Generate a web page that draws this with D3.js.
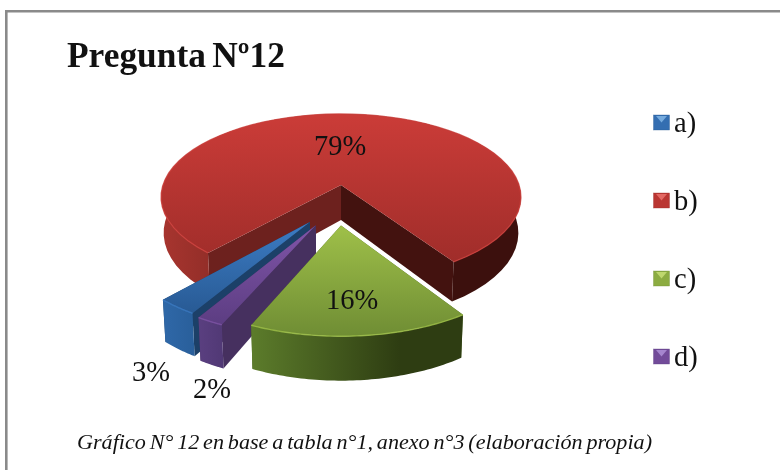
<!DOCTYPE html>
<html>
    <head>
        <meta charset="utf-8">
        <script src="https://d3js.org/d3.v7.min.js"></script>
        <style>
            html, body { margin: 0; padding: 0; background: #fff; }
            svg { display: block; filter: blur(0.45px); }
            text { font-family: "Liberation Serif", serif; fill: #111; }
        </style>
    </head>
    <body>
    <script>
        // data
        var categories= ['a)', 'b)', 'c)', 'd)']
        var percents= [3, 79, 16, 2]

        // colours per slice: top start/end, wall start/end, inner wall, legend light
        var topLight= ['#3c7cc4', '#cb3c38', '#9fc049', '#8055a8']
        var topDark= ['#285a94', '#a02d2a', '#6f8d34', '#5c3d82']
        var wallLight= ['#2f68a8', '#a8352f', '#5c7c2b', '#5a3f80']
        var wallDark= ['#1c4a7c', '#3c100d', '#2e3d12', '#3c2a5c']
        var innerWall= ['#1c4068', '#6d211e', '#4c6624', '#46305f']
        var legendLight= ['#8cc0ee', '#f07a74', '#cfe67c', '#b79ae0']

        // how far each slice is pulled out, and towards which angle (degrees)
        var pullDist= [0.457, 0, 0.465, 0.48]
        var pullDir= [201, 0, 180, 196]

        var w= 780
        var h= 470
        var cx= 341, cy= 185      // projected pie centre
        var R= 178, S= 81.3       // disc radii on screen
        var persp= 0.145          // perspective of the tilted disc
        var depth= 35             // height of the pie
        var firstAngle= 211       // where slice a) starts

        var svg= d3.select('body').append('svg')
            .attr('width', w)
            .attr('height', h)
            .attr('viewBox', [0, 0, w, h])
        var defs= svg.append('defs')

        // frame, only top and left are inside the picture
        svg.append('path')
            .attr('d', d3.line()([[6.3, h], [6.3, 11.3], [w, 11.3]]))
            .attr('fill', 'none')
            .attr('stroke', '#8a8a8a')
            .attr('stroke-width', 2.6)

        svg.append('text')
            .attr('x', 67).attr('y', 66.5)
            .attr('font-size', 35.4)
            .attr('font-weight', 'bold')
            .attr('word-spacing', -2.5)
            .text('Pregunta Nº12')

        svg.append('text')
            .attr('x', 77).attr('y', 449)
            .attr('font-size', 20)
            .attr('font-style', 'italic')
            .attr('fill', '#222')
            .attr('word-spacing', -1.5)
            .attr('textLength', 575)
            .attr('lengthAdjust', 'spacingAndGlyphs')
            .text('Gráfico N° 12 en base a tabla n°1, anexo n°3 (elaboración propia)')

        var pie= d3.pie().sort(null)
            .startAngle(firstAngle*Math.PI/180)
            .endAngle((firstAngle+360)*Math.PI/180)
        var arcs= pie(percents)

        // disc coordinates to screen, z goes down the side of the pie
        function project(u, v, z){
            var s= 1+persp*v
            var k= 1-0.014*z/depth
            return [cx+R*u/s*k, cy-S*v/s+z/s]
        }

        function slicePoints(d, i){
            var dir= pullDir[i]*Math.PI/180
            var ou= pullDist[i]*Math.sin(dir)
            var ov= pullDist[i]*Math.cos(dir)
            var rim= d3.range(0, 61).map(function(k){
                var a= d.startAngle+(d.endAngle-d.startAngle)*k/60
                return [ou+Math.sin(a), ov+Math.cos(a)]
            })
            return {apex: [ou, ov], rim: rim}
        }

        var line= d3.line()
        function topPt(p){ return project(p[0], p[1], 0) }
        function bottomPt(p){ return project(p[0], p[1], depth) }
        function wallPath(pts){
            return line(pts.map(topPt).concat(pts.slice().reverse().map(bottomPt)))+'Z'
        }

        function addGradient(id, x1, y1, x2, y2, c1, c2){
            var g= defs.append('linearGradient').attr('id', id)
                .attr('gradientUnits', 'userSpaceOnUse')
                .attr('x1', x1).attr('y1', y1).attr('x2', x2).attr('y2', y2)
            g.append('stop').attr('offset', 0).attr('stop-color', c1)
            g.append('stop').attr('offset', 1).attr('stop-color', c2)
        }

        var pieGroup= svg.append('g')

        // painter's order: red at the back, then blue, purple and green
        var drawOrder= [1, 0, 3, 2]
        drawOrder.forEach(function(i){
            var p= slicePoints(arcs[i], i)
            var g= pieGroup.append('g')
            var rimScreen= p.rim.map(topPt)
            var xExt= d3.extent(rimScreen.concat([topPt(p.apex)]), function(d){ return d[0] })
            var yExt= d3.extent(rimScreen.concat([topPt(p.apex)]), function(d){ return d[1] })

            addGradient('wall'+i, xExt[0], 0, xExt[0]+(xExt[1]-xExt[0])*0.7, 0, wallLight[i], wallDark[i])
            addGradient('top'+i, 0, yExt[0], 0, yExt[1], topLight[i], topDark[i])

            // the two cut walls first, the top face hides whichever faces away
            g.append('path')
                .attr('d', wallPath([p.rim[60], p.apex]))
                .attr('fill', i==1 ? '#43120f' : innerWall[i])
            g.append('path')
                .attr('d', wallPath([p.apex, p.rim[0]]))
                .attr('fill', i==1 ? '#6d211e' : innerWall[i])
            g.append('path').attr('d', wallPath(p.rim)).attr('fill', 'url(#wall'+i+')')

            g.append('path')
                .attr('d', line([topPt(p.apex)].concat(rimScreen))+'Z')
                .attr('fill', 'url(#top'+i+')')
            g.append('path')
                .attr('d', line(rimScreen))
                .attr('fill', 'none')
                .attr('stroke', topLight[i])
                .attr('stroke-width', 1.4)
                .attr('stroke-opacity', 0.8)
        })

        // percent labels
        var labelX= [151, 340, 352, 212]
        var labelY= [381, 155, 309, 398]
        percents.forEach(function(v, i){
            svg.append('text')
                .attr('x', labelX[i]).attr('y', labelY[i])
                .attr('text-anchor', 'middle')
                .attr('font-size', 28.5)
                .text(v+'%')
        })

        // legend
        var legendY= d3.scalePoint().domain(categories).range([122.5, 356.5])
        var legend= svg.selectAll('g.legend').data(categories).enter().append('g')
            .attr('class', 'legend')
            .attr('transform', function(d){ return 'translate(0,'+legendY(d)+')' })
        legend.each(function(d, i){
            var g= d3.select(this).append('g')
            g.append('rect')
                .attr('x', 653.5).attr('y', -7.5).attr('width', 16).attr('height', 15)
                .attr('fill', d3.interpolateRgb(topLight[i], topDark[i])(0.4))
                .attr('stroke', topDark[i])
                .attr('stroke-width', 0.6)
                .attr('stroke-opacity', 0.6)
            g.append('path')
                .attr('d', line([[656, -6.5], [667, -6.5], [661.5, 0]])+'Z')
                .attr('fill', legendLight[i])
                .attr('fill-opacity', 0.75)
        })
        legend.append('text')
            .attr('x', 674).attr('y', 9)
            .attr('font-size', 28.5)
            .text(function(d){ return d })
    </script>
    </body>
</html>
